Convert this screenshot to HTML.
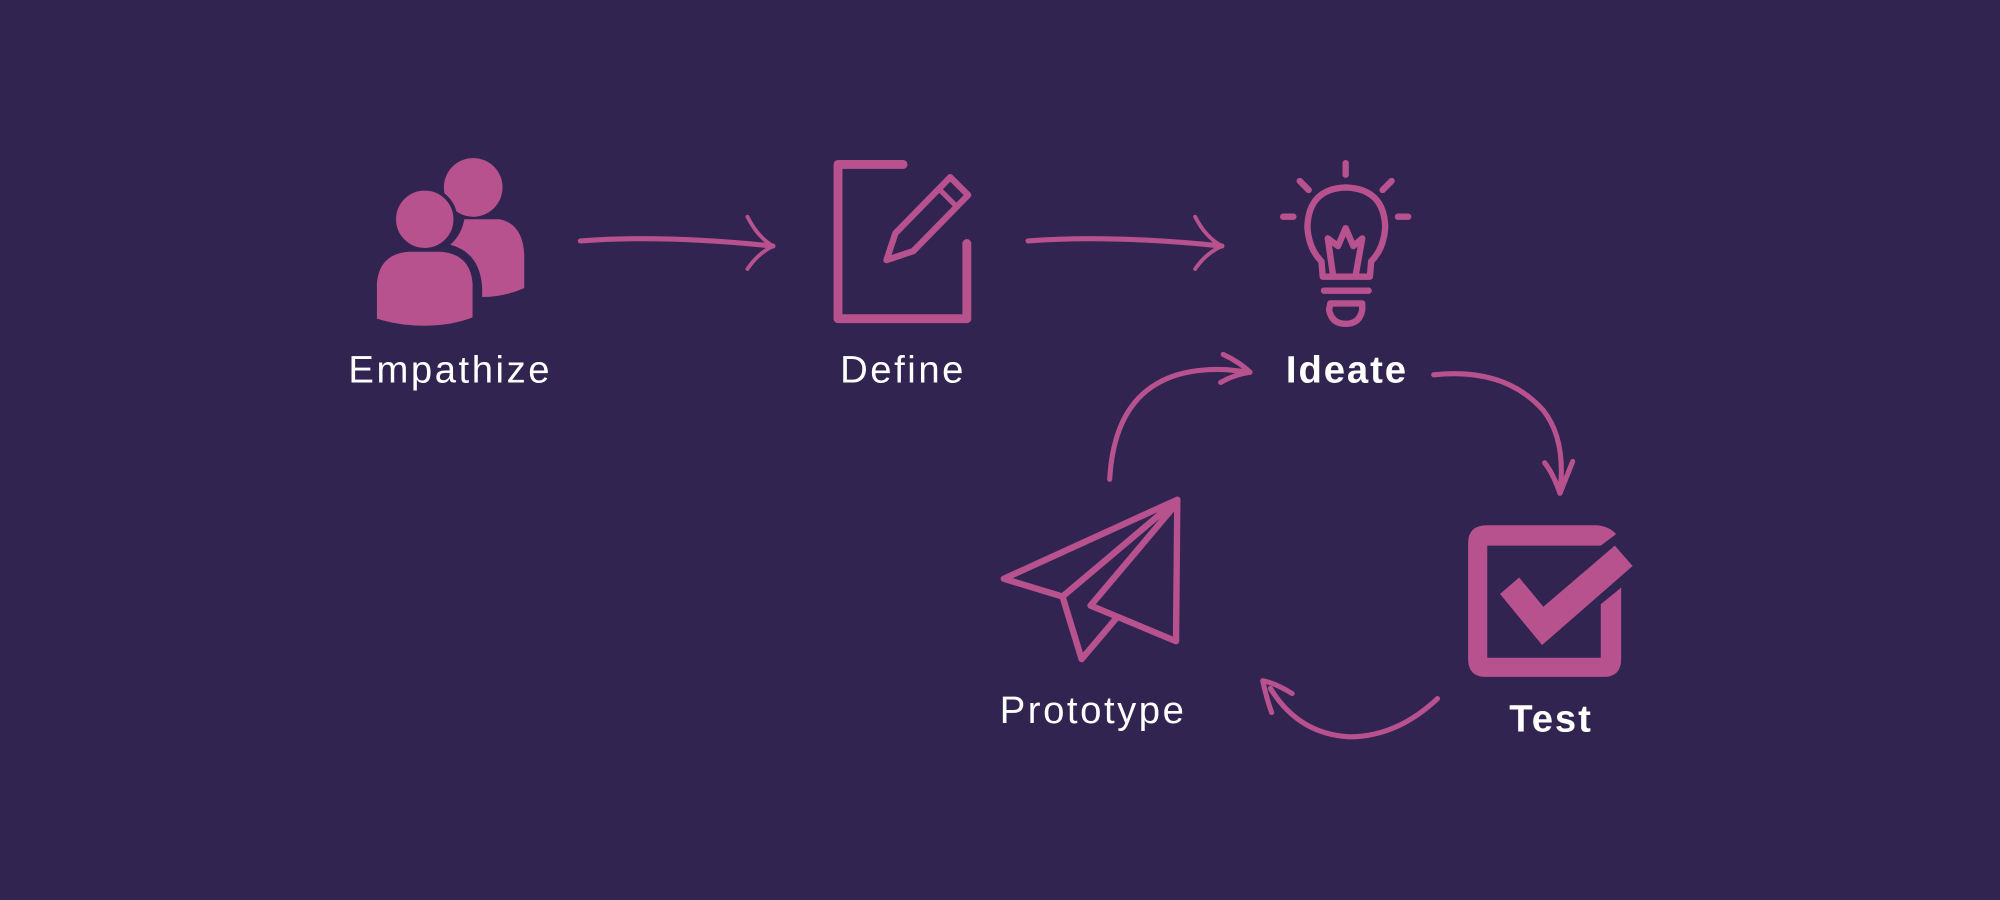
<!DOCTYPE html>
<html><head><meta charset="utf-8"><style>
html,body{margin:0;padding:0;background:#312450;}
svg{display:block}
text{font-family:"Liberation Sans",sans-serif;fill:#fff}
</style></head><body>
<svg width="2000" height="900" viewBox="0 0 1568 706" preserveAspectRatio="none" xmlns="http://www.w3.org/2000/svg">
<rect width="1568" height="706" fill="#312450"/>
<g fill="#b8528f">
  <circle cx="371" cy="147" r="23"/>
  <path d="M355,172 L392,172 Q410,176 411,200 L411,226 Q395,233 378,233 L378,225 Q376,198 353,192 Q362,184 364,172 Z"/>
  <circle cx="333" cy="172" r="24" stroke="#312450" stroke-width="3"/>
  <path d="M294,255 L294,222 Q296,198 320,196 L346,196 Q370,198 372,222 L372,250 Q355,257 333,257 Q312,257 294,251 Z" stroke="#312450" stroke-width="3"/>
</g>

<g fill="none" stroke="#b8528f" stroke-linecap="round" stroke-linejoin="round">
  <path d="M455,189 Q520,184 606,193" stroke-width="4"/>
  <path d="M586,170 Q594,186 606,193 Q594,199 586,211" stroke-width="3"/>
  <path d="M806,189 Q870,184 958,193" stroke-width="4"/>
  <path d="M937,170 Q945,186 958,193 Q945,199 937,211" stroke-width="3"/>
  <path d="M708,129 L657,129 L657,250 L758,250 L758,191" stroke-width="7"/>
  <path d="M745,139 L759,153 L716,197 L695,204 L702,183 Z" stroke-width="5"/>
  <path d="M736,148 L750,162" stroke-width="4"/>
  <g stroke-width="5">
    <path d="M1055,128 L1055,137"/>
    <path d="M1019,142 L1026,149"/>
    <path d="M1091,142 L1084,149"/>
    <path d="M1006,170 L1014,170"/>
    <path d="M1096,170 L1104,170"/>
    <path d="M1037,217 L1036,205 Q1026,195 1025,178 Q1026,148 1055,147 Q1085,148 1086,178 Q1085,195 1075,205 L1074,217 Z"/>
    <path d="M1045,215 L1041,187 L1049,193 L1055,179 L1061,193 L1068,187 L1063,215"/>
    <path d="M1038,228 L1073,228"/>
    <path d="M1043,238 L1068,238 L1068,243 Q1066,254 1055,254 Q1044,254 1042,243 Z"/>
  </g>
  <path d="M1124,294 Q1180,288 1210,322 Q1228,345 1223,386" stroke-width="4"/>
  <path d="M1211,363 Q1218,372 1223,387 Q1229,372 1233,362" stroke-width="4"/>
  <path d="M1127,548 Q1095,578 1058,578 Q1018,576 996,540" stroke-width="4"/>
  <path d="M1013,544 Q1000,536 990,534 Q993,548 997,559" stroke-width="4"/>
  <path d="M870,376 Q875,286 962,290 L980,292" stroke-width="4"/>
  <path d="M959,278 Q972,284 980,292 Q967,294 957,300" stroke-width="4"/>
  <g stroke-width="5">
    <path d="M923,392 L787,454 L833,468 L923,392 L922,503 L855,475 L920,398"/>
    <path d="M833,468 L848,517 L876,484"/>
  </g>
</g>
<g fill="#b8528f">
  <path d="M1166,412 L1252,412 Q1262,413 1267,419 L1255,428 L1166,428 L1166,516 L1255,516 L1255,474 L1271,461 L1271,517 Q1271,531 1257,531 L1165,531 Q1151,531 1151,517 L1151,426 Q1151,412 1166,412 Z"/>
  <path d="M1176,466 L1191,453 L1210,476 L1266,428 L1280,444 L1209,506 Z"/>
</g>
<g font-size="30" letter-spacing="2">
<text x="353" y="300" text-anchor="middle">Empathize</text>
<text x="708" y="300" text-anchor="middle">Define</text>
<text x="857" y="567" text-anchor="middle">Prototype</text>
<text x="1056" y="300" font-weight="bold" letter-spacing="1.5" text-anchor="middle">Ideate</text>
<text x="1216" y="574" font-weight="bold" letter-spacing="1.5" text-anchor="middle">Test</text>
</g>
</svg>
</body></html>
